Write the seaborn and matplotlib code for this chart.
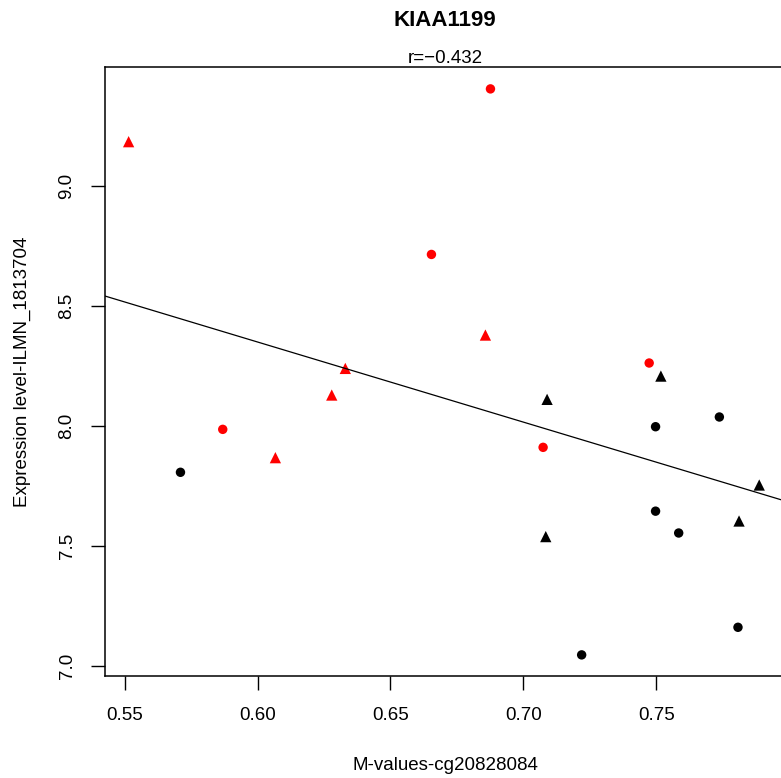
import numpy as np
import pandas as pd
import matplotlib
matplotlib.use("Agg")
import matplotlib.pyplot as plt
import seaborn as sns

# ---- data ----
red_tri_x = [0.5515, 0.6330, 0.6279, 0.6067, 0.6857]
red_tri_y = [9.185, 8.240, 8.129, 7.868, 8.379]
red_circ_x = [0.6654, 0.5869, 0.6876, 0.7473, 0.7074]
red_circ_y = [8.715, 7.986, 9.405, 8.2625, 7.911]
black_circ_x = [0.5710, 0.7737, 0.7497, 0.7497, 0.7584, 0.7807, 0.7219]
black_circ_y = [7.807, 8.0375, 7.997, 7.645, 7.554, 7.161, 7.046]
black_tri_x = [0.7517, 0.7089, 0.7887, 0.7811, 0.7084]
black_tri_y = [8.208, 8.111, 7.754, 7.604, 7.539]

x_ticks = [0.55, 0.60, 0.65, 0.70, 0.75]
y_ticks = [7.0, 7.5, 8.0, 8.5, 9.0]
x_tick_labels = ["0.55", "0.60", "0.65", "0.70", "0.75"]
y_tick_labels = ["7.0", "7.5", "8.0", "8.5", "9.0"]

title = "KIAA1199"
subtitle = "r=\u22120.432"
x_label = "M-values-cg20828084"
y_label = "Expression level-ILMN_1813704"


def block(xs, ys, group, shape):
    return pd.DataFrame({"m": xs, "expr": ys, "group": group, "shape": shape})


df = pd.concat([
    block(red_tri_x, red_tri_y, "red", "triangle"),
    block(red_circ_x, red_circ_y, "red", "circle"),
    block(black_circ_x, black_circ_y, "black", "circle"),
    block(black_tri_x, black_tri_y, "black", "triangle"),
], ignore_index=True)

palette = {"red": "#ff0000", "black": "#000000"}

sns.set_theme(style="white")
plt.rcParams["font.family"] = ["Liberation Sans", "DejaVu Sans"]
plt.rcParams["text.color"] = "black"
plt.rcParams["axes.labelcolor"] = "black"
plt.rcParams["xtick.color"] = "black"
plt.rcParams["ytick.color"] = "black"

W, H = 781, 778
fig = plt.figure(figsize=(W / 100, H / 100), dpi=100)
left_px, right_px, top_px, bottom_px = 104.7, 785.3, 67.3, 676.0
ax = fig.add_axes([left_px / W, (H - bottom_px) / H,
                   (right_px - left_px) / W, (bottom_px - top_px) / H])

xlim = (0.5425, 0.7985)
ylim = (6.958, 9.495)
ax.set_xlim(*xlim)
ax.set_ylim(*ylim)

sns.scatterplot(data=df[df["shape"] == "circle"], x="m", y="expr", hue="group",
                palette=palette, marker="o", s=46, linewidth=0, legend=False, ax=ax)
sns.scatterplot(data=df[df["shape"] == "triangle"], x="m", y="expr", hue="group",
                palette=palette, marker="^", s=66, linewidth=0, legend=False, ax=ax)
ax.set_xlim(*xlim)
sns.regplot(data=df, x="m", y="expr", scatter=False, ci=None, truncate=False,
            color="black", line_kws={"lw": 0.9}, ax=ax)
ax.set_xlim(*xlim)
ax.set_ylim(*ylim)

for sp in ax.spines.values():
    sp.set_visible(True)
    sp.set_color("black")
    sp.set_linewidth(1.1)

ax.set_xticks(x_ticks, x_tick_labels)
ax.set_yticks(y_ticks, y_tick_labels)
ax.tick_params(axis="both", which="major", bottom=True, left=True, direction="out",
               length=10, width=1.0, labelsize=13.5)
ax.tick_params(axis="x", pad=12)
ax.tick_params(axis="y", pad=11)
for lab in ax.get_yticklabels():
    lab.set_rotation(90)
    lab.set_va("center")

ax.set_xlabel(x_label, fontsize=13.5, labelpad=24)
ax.set_ylabel(y_label, fontsize=13.5, labelpad=20)

ax.annotate(title, xy=(0.5, 1.0), xycoords="axes fraction", xytext=(0, 29.7),
            textcoords="offset points", ha="center", va="baseline",
            fontsize=16, fontweight="bold")
ax.annotate(subtitle, xy=(0.5, 1.0), xycoords="axes fraction", xytext=(0, 3.1),
            textcoords="offset points", ha="center", va="baseline", fontsize=13.5)

fig.savefig("out.png", dpi=100)
